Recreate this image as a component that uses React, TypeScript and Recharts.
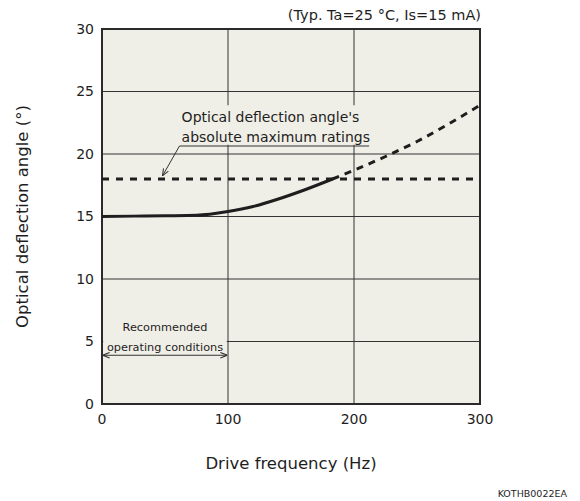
import React from "react";
import {
  LineChart,
  Line,
  XAxis,
  YAxis,
  CartesianGrid,
  ReferenceLine,
  ReferenceArea,
} from "recharts";

// typical curve
const solidFreq = [0, 25, 50, 75, 100, 120, 140, 160, 183];
const solidAngle = [15.0, 15.03, 15.06, 15.1, 15.4, 15.8, 16.4, 17.1, 18.0];
const dashFreq = [183, 200, 225, 250, 275, 300];
const dashAngle = [18.0, 18.7, 19.8, 21.0, 22.4, 23.9];

const maxRating = 18;
const xTicks = [0, 100, 200, 300];
const yTicks = [0, 5, 10, 15, 20, 25, 30];

const solidData = solidFreq.map((f, i) => ({ f, v: solidAngle[i] }));
const dashData = dashFreq.map((f, i) => ({ f, v: dashAngle[i] }));

const FONT = "'DejaVu Sans', Verdana, sans-serif";
const INK = "#1e1e1e";
const BG = "#f0efe7";

const renderFrameLabel = (props: any) => {
  const vb = props.viewBox;
  return (
    <g fontFamily={FONT} fill={INK}>
      <text x={vb.x + vb.width + 1} y={vb.y - 14} textAnchor="end" dominantBaseline="central" fontSize={14.5}>
        (Typ. Ta=25 °C, Is=15 mA)
      </text>
      <text x={567} y={493} textAnchor="end" dominantBaseline="central" fontSize={9.5}>
        KOTHB0022EA
      </text>
    </g>
  );
};

const renderRatingText = (props: any) => {
  const vb = props.viewBox;
  return (
    <g fontFamily={FONT} fill={INK} fontSize={14}>
      <text x={vb.x + 1.5} y={vb.y + 16.5}>
        Optical deflection angle's
      </text>
      <text x={vb.x + 1.5} y={vb.y + 36.5}>
        absolute maximum ratings
      </text>
    </g>
  );
};

const renderRecommendedText = (props: any) => {
  const vb = props.viewBox;
  const cx = vb.x + vb.width / 2;
  return (
    <g fontFamily={FONT} fill={INK} fontSize={11.3} textAnchor="middle">
      <text x={cx} y={vb.y + 10.5} dominantBaseline="central">
        Recommended
      </text>
      <text x={cx} y={vb.y + 30.5} dominantBaseline="central">
        operating conditions
      </text>
    </g>
  );
};

const renderYTitle = (props: any) => {
  const vb = props.viewBox;
  const cy = vb.y + vb.height / 2;
  return (
    <text
      x={22}
      y={cy}
      transform={`rotate(-90 22 ${cy})`}
      textAnchor="middle"
      dominantBaseline="central"
      fontFamily={FONT}
      fontSize={16.5}
      fill={INK}
    >
      Optical deflection angle (°)
    </text>
  );
};

const renderXTitle = (props: any) => {
  const vb = props.viewBox;
  return (
    <text
      x={vb.x + vb.width / 2}
      y={vb.y + 59}
      textAnchor="middle"
      dominantBaseline="central"
      fontFamily={FONT}
      fontSize={16.5}
      fill={INK}
    >
      Drive frequency (Hz)
    </text>
  );
};

const arrowLine = (start: boolean) => (p: any) => (
  <line
    x1={p.x1}
    y1={p.y1}
    x2={p.x2}
    y2={p.y2}
    stroke="#333"
    strokeWidth={1}
    markerEnd="url(#arrowHead)"
    markerStart={start ? "url(#arrowHead)" : undefined}
  />
);

export default function App() {
  return (
    <div style={{ position: "absolute", left: 0, top: 0, width: 580, height: 501, background: "#fff" }}>
      <LineChart width={580} height={501} margin={{ top: 29, right: 100, bottom: 67, left: 0 }}>
        <defs>
          <marker
            id="arrowHead"
            viewBox="0 0 10 10"
            refX={10}
            refY={5}
            markerWidth={7}
            markerHeight={7}
            orient="auto-start-reverse"
            markerUnits="userSpaceOnUse"
          >
            <path d="M0,1 L10,5 L0,9" fill="none" stroke="#333" strokeWidth={1.5} />
          </marker>
        </defs>
        <CartesianGrid stroke="#333" strokeWidth={1} fill={BG} fillOpacity={1} />
        <XAxis
          type="number"
          dataKey="f"
          domain={[0, 300]}
          ticks={xTicks}
          axisLine={false}
          tickLine={false}
          tickMargin={4}
          height={30}
          tick={{ fontFamily: FONT, fontSize: 14, fill: INK }}
          label={renderXTitle}
        />
        <YAxis
          type="number"
          domain={[0, 30]}
          ticks={yTicks}
          axisLine={false}
          tickLine={false}
          tickMargin={2}
          width={102}
          tick={{ fontFamily: FONT, fontSize: 14, fill: INK }}
          label={renderYTitle}
        />
        <ReferenceArea x1={1} x2={99} y1={4.2} y2={7.0} fill={BG} fillOpacity={1} stroke="none" label={renderRecommendedText} />
        <ReferenceArea x1={62} x2={213} y1={20.75} y2={23.9} fill={BG} fillOpacity={1} stroke="none" label={renderRatingText} />
        <ReferenceLine segment={[{ x: 61.5, y: 20.64 }, { x: 212, y: 20.64 }]} stroke="#333" strokeWidth={1} />
        <ReferenceLine segment={[{ x: 61.5, y: 20.64 }, { x: 48, y: 18.25 }]} shape={arrowLine(false)} />
        <ReferenceLine segment={[{ x: 0.5, y: 3.9 }, { x: 99.5, y: 3.9 }]} shape={arrowLine(true)} />
        <ReferenceLine y={maxRating} stroke={INK} strokeWidth={3} strokeDasharray="7 7" />
        <Line
          data={solidData}
          dataKey="v"
          type="monotone"
          stroke={INK}
          strokeWidth={3}
          dot={false}
          isAnimationActive={false}
        />
        <Line
          data={dashData}
          dataKey="v"
          type="monotone"
          stroke={INK}
          strokeWidth={3}
          strokeDasharray="7 6"
          dot={false}
          isAnimationActive={false}
        />
        <ReferenceArea x1={0} x2={300} y1={0} y2={30} fill="none" stroke="#2a2a2a" strokeWidth={2} label={renderFrameLabel} />
      </LineChart>
    </div>
  );
}
